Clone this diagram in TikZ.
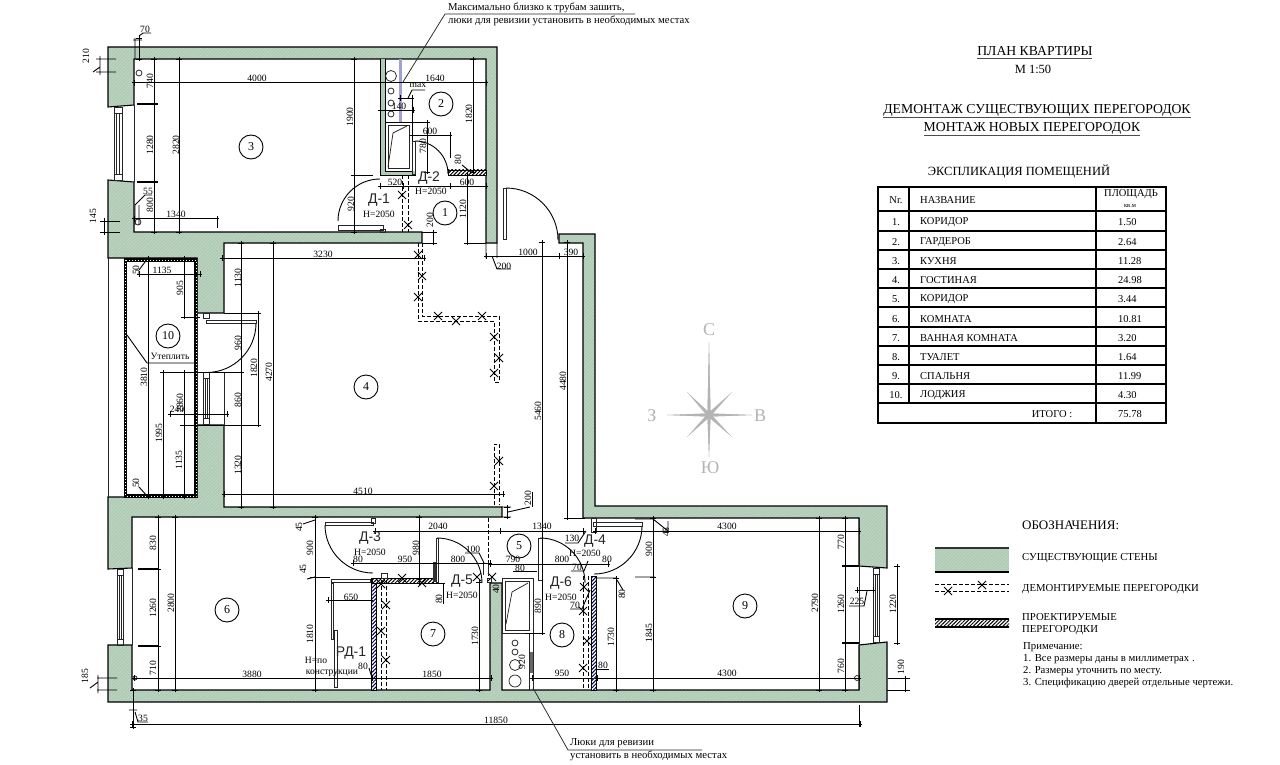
\documentclass[tikz,border=0pt]{standalone}
\usepackage{fontspec}
\setmainfont{Liberation Serif}
\newfontfamily\labsans{Liberation Sans}
\usetikzlibrary{patterns.meta}
\definecolor{wallgreen}{HTML}{AFCBB5}
\definecolor{wallstripe}{HTML}{C2D8C6}
\definecolor{compassgray}{HTML}{B4B4B4}
\newcounter{nn}
\tikzset{
  x=1pt,y=-1pt,
  wall/.style={fill=wallgreen,draw=black,line width=1.1pt,line join=miter},
  wallhatch/.style={pattern={Lines[angle=45,distance=2.4pt,line width=0.6pt]},pattern color=wallstripe},
  dimline/.style={line width=0.9pt,black},
  thinline/.style={line width=0.75pt,black!85},
  heavy/.style={line width=1.4pt,black},
  demo/.style={line width=1pt,dash pattern=on 4pt off 2pt},
  xmark/.style={line width=0.9pt},
  newhatch/.style={pattern={Lines[angle=45,distance=2.6pt,line width=1pt]},pattern color=black},
  newhatchb/.style={pattern={Lines[angle=45,distance=2.6pt,line width=1pt]},pattern color=blue!30!black},
  dimlab/.style={inner sep=0pt,font=\fontsize{9.6}{10}\selectfont,text=black},
  textlab/.style={inner sep=0pt,anchor=west,font=\fontsize{10.7}{11}\selectfont,text=black},
  doorlab/.style={inner sep=0pt,font=\labsans\fontsize{14}{15}\selectfont,text=black!85},
  roomnum/.style={circle,draw=black,line width=0.9pt,inner sep=0pt,minimum size=24pt,font=\fontsize{12}{12}\selectfont},
  tabl/.style={inner sep=0pt,font=\fontsize{10.5}{11}\selectfont,text=black},
  taba/.style={tabl,anchor=west},
  tline/.style={line width=1.1pt,black},
  star/.style={fill=compassgray,draw=none},
  compass/.style={inner sep=0pt,text=compassgray,font=\fontsize{18}{18}\selectfont},
}
\newcommand{\dimhh}[3]{\draw[dimline] (#1-2,#3)--(#2+2,#3) (#1,#3-3)--(#1,#3+3) (#2,#3-3)--(#2,#3+3);}
\newcommand{\dimvv}[3]{\draw[dimline] (#3,#1-2)--(#3,#2+2) (#3-3,#1)--(#3+3,#1) (#3-3,#2)--(#3+3,#2);}
\newcommand{\lbh}[3]{\stepcounter{nn}\node[dimlab] (n\thenn) at (#1,#2) {#3};}
\newcommand{\lbv}[3]{\stepcounter{nn}\node[dimlab,rotate=90] (n\thenn) at (#1,#2) {#3};}
\newcommand{\xm}[2]{\draw[xmark] (#1-4,#2-4)--(#1+4,#2+4) (#1-4,#2+4)--(#1+4,#2-4);}
\newcommand{\rn}[3]{\node[roomnum] (room#3) at (#1,#2) {#3};}
\newcommand{\trow}[4]{\node[tabl] (nr#1) at (896,#2+1) {#1.};\node[taba] (nm#1) at (920,#2+1) {#3};\node[taba] (ar#1) at (1118,#2+1) {#4};}
\begin{document}
\begin{tikzpicture}
\useasboundingbox (0,0) rectangle (1280,765);
\fill[white] (0,0) rectangle (1280,765);
% ---- walls
\def\wallA{(108,47)--(497,47)--(497,243)--(486,243)--(486,59)--(134,59)--(134,105)--(108,107)--cycle}
\def\wallB{(108,180)--(134,182)--(134,232)--(422,232)--(422,243)--(224,243)--(224,313)--(197,313)--(197,258)--(108,258)--cycle}
\def\wallC{(197,425)--(224,425)--(224,507)--(502,507)--(502,517)--(132,517)--(132,568)--(108,569)--(108,497)--(197,497)--cycle}
\def\wallD{(108,645)--(132,645)--(132,690)--(490,690)--(490,583)--(502,583)--(502,690)--(859,690)--(859,645)--(887,642)--(887,702)--(108,702)--cycle}
\def\wallE{(859,566)--(887,568)--(887,506)--(595,506)--(595,234)--(559,234)--(559,243)--(583,243)--(583,518)--(859,518)--cycle}
\foreach \w in {\wallA,\wallB,\wallC,\wallD,\wallE}{
  \path[fill=wallgreen] \w;
  \path[wallhatch] \w;
  \draw[draw=black,line width=1.1pt] \w;
}
% room edges through window and door openings
\draw[thinline] (134,105)--(134,182) (132,568)--(132,645) (859,518)--(859,690)
  (108,258)--(108,497) (197,258)--(197,497) (224,372)--(224,425) (197,372)--(224,372);
% ---- windows
\draw[thinline] (114,107) rectangle (122,180) (116.5,113) rectangle (119.5,174) (114,113)--(122,113) (114,174)--(122,174);
\draw[thinline] (117,569) rectangle (123,645) (119,575) rectangle (121,639) (117,575)--(123,575) (117,639)--(123,639);
\draw[thinline] (873,568) rectangle (879,642) (875,574) rectangle (877,636) (873,574)--(879,574) (873,636)--(879,636);
\draw[thinline] (203,372) rectangle (209,424) (205,378) rectangle (207,418) (203,378)--(209,378) (203,418)--(209,418);
% ---- loggia insulation
\draw[line width=3.2pt,black] (125.5,260) rectangle (196,496);
\draw[line width=1pt,white,dash pattern=on 1pt off 2pt] (125.5,260) rectangle (196,496);
\draw[thinline] (197,258)--(197,497);
% ---- kitchen niche
\fill[wallgreen] (380,59) rectangle (385,175);
\fill[wallgreen] (380,171) rectangle (415,175);
\draw[line width=0.9pt] (380,59)--(380,175)--(415,175)--(415,141);
\draw[line width=0.9pt] (385,59)--(385,171)--(412,171)--(412,122)--(385,122);
\draw[thinline] (388,125) rectangle (409,168);
\draw[thinline] (388,167)--(393,133)--(407,126);
\fill[blue!35!gray!55] (399,59) rectangle (402,122);
\draw[thinline] (391,76) circle[radius=5.5] (391,91) circle[radius=3] (391,103) circle[radius=3] (391,114) circle[radius=3]
  (139,73) circle[radius=3] (138,222) circle[radius=3] (135,678) circle[radius=2] (857,678) circle[radius=2.5];
% ---- toilet block
\draw[thinline] (502,578) rectangle (533,633) (505,581) rectangle (529,630);
\draw[thinline] (506,624)--(512,592)--(528,583);
\draw[thinline] (515,643) circle[radius=3] (515,652) circle[radius=3] (515,665) circle[radius=5.5] (515,681) circle[radius=6];
\draw[thinline] (529,633)--(529,690) (533,633)--(533,690);
\fill[black!60] (530,652) rectangle (533,673);
% ---- new partitions
\fill[white] (448,170) rectangle (486,175);
\path[newhatch] (448,170) rectangle (486,175);
\draw[line width=0.9pt] (448,170) rectangle (486,175);
\fill[white] (371,578) rectangle (376,690);
\path[newhatchb] (371,578) rectangle (376,690);
\draw[line width=0.9pt] (371,578) rectangle (376,690);
\fill[white] (372,578) rectangle (433,583);
\path[newhatch] (372,578) rectangle (433,583);
\draw[line width=0.9pt] (372,578) rectangle (433,583);
\fill[white] (591,576) rectangle (596,690);
\path[newhatchb] (591,576) rectangle (596,690);
\draw[line width=0.9pt] (591,576) rectangle (596,690);
\fill[black!80] (433,562) rectangle (436,582);
% ---- demolished partitions
\draw[demo] (402,175)--(402,232) (408,175)--(408,232);
\draw[demo] (418,243)--(418,321)--(494,321)--(494,382)--(499,382)--(499,316)--(422,316)--(422,243);
\draw[demo] (494,505)--(494,444)--(499,444)--(499,505);
\draw[demo] (381,580)--(381,690) (386,580)--(386,690);
\draw[demo] (488,518)--(488,578) (583,576)--(583,690) (588,576)--(588,690);
\foreach \px/\py in {402/195,408/225,418/255,422/276,418/297,438/316,456/321,482/316,494/337,499/358,494/373,499/461,494/486,386/605,381/631,386/660,381/584,402/578,422/583,477/577,492/577,584/587,583/611,587/641,583/668}{\xm{\px}{\py}}
% ---- doors
\draw[line width=0.9pt] (380,179) arc[start angle=-90,end angle=-180,radius=42];
\draw[thinline] (338,225) rectangle (383,230) (380,229) rectangle (385,232);
\draw[line width=0.9pt] (415,141) arc[start angle=-90,end angle=0,radius=33];
\draw[thinline] (412,141) rectangle (415,174);
\draw[line width=0.9pt] (506,188) arc[start angle=-90,end angle=0,radius=52];
\draw[thinline] (503,188) rectangle (506,239);
\draw[line width=0.9pt] (256,323) arc[start angle=0,end angle=90,radius=49.5];
\draw[thinline] (206,320) rectangle (256,323) (203,313) rectangle (209,318);
\draw[line width=0.9pt] (325,525) arc[start angle=180,end angle=90,radius=48];
\draw[thinline] (325,522) rectangle (373,525) (371,518) rectangle (375,523);
\draw[line width=0.9pt] (437,538) arc[start angle=-90,end angle=0,radius=45];
\draw[thinline] (436,538) rectangle (438,582);
\draw[line width=0.9pt] (540,538) arc[start angle=-90,end angle=0,radius=45];
\draw[thinline] (538,538) rectangle (542,580);
\draw[line width=0.9pt] (642,526) arc[start angle=0,end angle=90,radius=48];
\draw[thinline] (593,522) rectangle (642,526) (591,518) rectangle (596,532);
\draw[thinline] (331,583) rectangle (333,639) (334,630) rectangle (337,687) (331,579) rectangle (370,582);
\draw[thinline] (483,562)--(483,575) (488,562)--(488,575) (381,573) rectangle (387,578) (487,578) rectangle (491,582);
% ---- dimension lines, kitchen block
\dimvv{38}{59}{139}\draw[dimline] (135,38)--(135,59) (133,40)--(142,40) (139,36)--(143,33)--(151,33);
\lbh{145}{29}{70}
\draw[dimline] (96,59)--(116,59) (96,72)--(116,72) (100,56)--(100,75) (100,67)--(93,72);
\lbv{86}{56}{210}
\dimhh{134}{380}{82.7}\dimhh{380}{486}{82.7}
\lbh{257}{78}{4000}\lbh{435}{78}{1640}
\dimvv{59}{104}{154}\dimvv{104}{182}{154}\dimvv{182}{232}{154}
\lbv{150}{81}{740}\lbv{150}{145}{1280}\lbv{150}{205}{800}
\draw[heavy] (137,104)--(158,104) (137,182)--(158,182);
\dimvv{59}{232}{179}\lbv{176}{145}{2820}
\dimhh{134}{217}{218.7}\draw[dimline] (217,216)--(217,228);\lbh{176}{214}{1340}
\draw[dimline] (135,205)--(135,225) (139,205)--(139,225) (135,205)--(145,195)--(152,195);\lbh{148}{191}{55}
\draw[dimline] (100,221)--(120,221) (100,232)--(120,232) (104,218)--(104,235);\lbv{93}{216}{145}
\dimvv{59}{175}{354}\dimvv{175}{232}{354}\draw[dimline] (354,175)--(373,175);
\lbv{350}{117}{1900}\lbv{351}{204}{920}
\dimhh{400}{412}{98}\draw[dimline] (408,98)--(412,90)--(425,90);\lbh{418}{85}{max}
\dimhh{380}{413}{110}\lbh{399}{106}{140}
\draw[dimline] (412,95)--(412,122);
\dimhh{412}{450}{135}\lbh{430}{131}{600}
\draw[dimline] (450,135)--(450,158);
\dimvv{122}{172}{427}\draw[dimline] (412,122)--(428,122);\lbv{423}{146}{780}
\dimvv{59}{172}{473}\lbv{469}{114}{1820}
\draw[dimline] (462,165)--(472,173);\lbv{458}{160}{80}
\dimhh{450}{486}{186}\dimhh{380}{403}{186}\draw[dimline] (403,186)--(450,186);
\lbh{467}{182}{600}\lbh{395}{182}{520}
\dimvv{175}{243}{467}\draw[dimline] (465,243)--(486,243);\lbv{463}{209}{1120}
\dimvv{232}{243}{433}\draw[dimline] (422,232)--(437,232) (422,243)--(437,243);\lbv{430}{220}{200}
% ---- entry
\dimhh{486}{559}{256}\dimhh{559}{583}{256}\lbh{528}{252}{1000}\lbh{571}{252}{390}
\draw[dimline] (486,243)--(486,258) (497,243)--(497,258) (492,256)--(497,269)--(511,269);\lbh{504}{266}{200}
\dimvv{242}{633}{542}\draw[dimline] (525,633)--(545,633);\lbv{538}{411}{5460}
\dimvv{242}{518}{567}\draw[dimline] (565,518)--(585,518);\lbv{563}{381}{4480}
\dimvv{507}{517}{507}\draw[dimline] (502,507)--(511,507) (502,517)--(511,517) (508,512)--(530,507);\draw[dimline] (532,492)--(532,507);\lbv{528}{498}{200}
% ---- living room
\dimhh{222}{424}{258}\lbh{323}{254}{3230}
\dimhh{224}{503}{494}\lbh{363}{491}{4510}
\dimvv{243}{313}{241}\dimvv{313}{372}{241}\dimvv{372}{425}{241}\dimvv{425}{507}{241}
\lbv{238}{278}{1130}\lbv{238}{343}{960}\lbv{238}{400}{860}\lbv{238}{465}{1320}
\dimvv{243}{507}{273}\lbv{269}{372}{4270}
\dimvv{313}{425}{258}\lbv{254}{368}{1820}
\draw[dimline] (224,313)--(260,313) (160,372)--(243,372) (180,425)--(260,425);
% ---- loggia dims
\dimvv{258}{497}{148}\lbv{144}{377}{3810}
\dimhh{139}{200}{274}\lbh{162}{270}{1135}
\draw[dimline] (139,270)--(148,258);\lbv{136}{270}{50}
\dimvv{258}{317}{184}\draw[dimline] (182,317)--(200,317);\lbv{180}{288}{905}
\lbv{180}{403}{2860}
\dimvv{372}{497}{184}\lbv{179}{460}{1135}
\dimvv{372}{497}{163}\lbv{159}{433}{1995}
\dimhh{170}{227}{414}\lbh{177}{409}{240}
\draw[dimline] (139,487)--(148,497);\lbv{136}{483}{50}
\draw[dimline] (147,363)--(194,363) (147,363)--(127,335);
\lbh{170}{356}{Утеплить}
% ---- room 6
\dimvv{517}{569}{158}\dimvv{569}{646}{158}\dimvv{646}{690}{158}
\lbv{153}{543}{830}\lbv{153}{608}{1260}\lbv{153}{668}{710}
\draw[heavy] (138,569)--(158,569) (138,646)--(158,646);
\dimvv{517}{690}{175}\lbv{171}{603}{2800}
\dimhh{134}{372}{678}\dimhh{372}{491}{678}\lbh{252}{674}{3880}\lbh{432}{674}{1850}
\draw[dimline] (97,678)--(117,678) (97,690)--(117,690) (98,675)--(98,693) (98,682)--(90,688);
\lbv{85}{676}{185}
\dimvv{690}{727}{133}\draw[dimline] (129,710)--(137,710) (135,712)--(138,722)--(148,722);\lbh{143}{718}{35}
\dimhh{132}{860}{724}\lbh{496}{720}{11850}
\draw[dimline] (859,705)--(859,727);
\dimvv{517}{577}{315}\dimvv{577}{690}{315}\draw[dimline] (310,577)--(330,577);
\lbv{310}{548}{900}\lbv{310}{634}{1810}
\draw[dimline] (303,524)--(315,520) (307,579)--(315,577);
\lbv{299}{527}{45}\lbv{303}{569}{45}
\dimhh{375}{500}{531}\lbh{438}{526}{2040}
\dimvv{517}{583}{419}\lbv{416}{548}{980}
\dimhh{353}{490}{563}\lbh{358}{559}{80}\lbh{405}{559}{950}\lbh{458}{559}{800}\lbh{473}{549}{100}
\draw[dimline] (465,553)--(479,553)--(484,563);
\dimhh{328}{371}{600}\lbh{351}{597}{650}
\lbh{363}{666}{80}\draw[dimline] (369,668)--(372,678);
\draw[dimline] (443,583)--(443,604) (433,583)--(445,583);\lbv{439}{599}{80}
\dimvv{582}{690}{479}\lbv{475}{636}{1730}
\lbv{496}{589}{40}
% ---- corridor, bath
\dimhh{500}{583}{531}\dimhh{595}{859}{531}\lbh{542}{526}{1340}\lbh{727}{526}{4300}
\lbh{572}{538}{130}\draw[dimline] (565,543)--(578,543)--(586,531);
\dimhh{490}{608}{564}\lbh{513}{559}{790}\lbh{562}{559}{800}\lbh{607}{559}{80}
\lbh{520}{568}{80}\draw[dimline] (513,571)--(537,571);
\lbh{577}{567}{70}\draw[dimline] (571,571)--(584,571)--(588,561);
\lbh{575}{605}{70}\draw[dimline] (570,609)--(582,609)--(590,590);
\lbv{538}{606}{890}
\dimvv{578}{690}{616}\draw[dimline] (597,578)--(616,578) (617,580)--(623,590);\lbv{622}{594}{80}\lbv{611}{637}{1730}
\dimhh{532}{591}{678}\dimhh{597}{859}{678}\lbh{562}{673}{950}\lbh{727}{673}{4300}
\lbh{603}{665}{80}\draw[dimline] (596,669)--(609,669);
\lbv{522}{662}{920}
% ---- room 9
\dimvv{518}{577}{653}\dimvv{577}{690}{653}\draw[dimline] (635,577)--(655,577) (635,519)--(653,519) (653,519)--(668,531)--(668,521);
\lbv{649}{549}{900}\lbv{649}{633}{1845}\lbv{666}{532}{45}
\dimvv{518}{690}{819}\lbv{815}{603}{2790}
\dimvv{518}{566}{845}\dimvv{566}{643}{845}\dimvv{643}{690}{845}
\lbv{841}{542}{770}\lbv{841}{604}{1260}\lbv{841}{666}{760}
\draw[heavy] (842,566)--(859,566) (842,643)--(859,643);
\dimhh{857}{873}{590}\draw[dimline] (867,591)--(864,606)--(849,606);\lbh{857}{601}{225}
\dimvv{566}{643}{897}\lbv{893}{604}{1220}
\dimvv{678}{690}{905}\draw[dimline] (888,678)--(910,678) (887,690)--(910,690);\lbv{901}{667}{190}
% ---- door labels
\node[doorlab] (d1) at (379,200) {Д-1};
\node[dimlab] (h1) at (379,214) {Н=2050};
\node[doorlab] (d2) at (429,178) {Д-2};
\node[dimlab] (h2) at (431,191) {Н=2050};
\node[doorlab] (d3) at (370,538) {Д-3};
\node[dimlab] (h3) at (370,552) {Н=2050};
\node[doorlab] (d4) at (595,541) {Д-4};
\node[dimlab] (h4) at (585,553) {Н=2050};
\node[doorlab] (d5) at (462,581) {Д-5};
\node[dimlab] (h5) at (462,595) {Н=2050};
\node[doorlab] (d6) at (561,583) {Д-6};
\node[dimlab] (h6) at (561,597) {Н=2050};
\node[doorlab] (rd) at (351,653) {РД-1};
\node[dimlab] (rd1) at (316,660) {Н=по};
\node[dimlab] (rd2) at (332,673) {конструкции};
% ---- room numbers
\rn{441}{104}{2}\rn{251}{147}{3}\rn{445}{213}{1}\rn{168}{336}{10}\rn{366}{387}{4}
\rn{227}{610}{6}\rn{433}{634}{7}\rn{519}{546}{5}\rn{562}{635}{8}\rn{745}{606}{9}
% ---- callouts
\node[textlab] (call1) at (448,8) {Максимально близко к трубам зашить,};
\node[textlab] (call2) at (448,21) {люки для ревизии установить в необходимых местах};
\draw[thinline] (403,82)--(445,14)--(635,14);
\node[textlab] (call3) at (570,743) {Люки для ревизии};
\node[textlab] (call4) at (570,756) {установить в необходимых местах};
\draw[thinline] (533,688)--(568,750)--(702,750);
% ---- title
\node[inner sep=0pt,font=\fontsize{13.7}{14}\selectfont] (t1) at (1035,51) {ПЛАН КВАРТИРЫ};
\draw[line width=1pt,black!70] (977,59)--(1092,59);
\node[inner sep=0pt,font=\fontsize{12.5}{13}\selectfont] (t2) at (1033,69) {М 1:50};
\node[inner sep=0pt,font=\fontsize{13.7}{14}\selectfont] (t3) at (1037,110) {ДЕМОНТАЖ СУЩЕСТВУЮЩИХ ПЕРЕГОРОДОК};
\draw[line width=1.3pt,black!70] (883,117.5)--(1191,117.5);
\node[inner sep=0pt,font=\fontsize{13.7}{14}\selectfont] (t4) at (1032,128) {МОНТАЖ НОВЫХ ПЕРЕГОРОДОК};
\draw[line width=1.3pt,black!70] (924,135.5)--(1140,135.5);
\node[inner sep=0pt,font=\fontsize{12.5}{13}\selectfont] (t5) at (1019,172) {ЭКСПЛИКАЦИЯ ПОМЕЩЕНИЙ};
% ---- table
\draw[tline] (878,187) rectangle (1166,423);
\draw[tline] (909,187)--(909,403) (1096,187)--(1096,423);
\foreach \ry in {211,231,250,288,307,327,346,365,384,403}{\draw[tline] (878,\ry)--(1166,\ry);}
\draw[line width=1.6pt] (878,269)--(1166,269);
\node[tabl] (hd1) at (896,200) {Nr.};
\node[taba] (hd2) at (920,200) {НАЗВАНИЕ};
\node[tabl] (hd3) at (1131,194) {ПЛОЩАДЬ};
\node[tabl,font=\fontsize{6.5}{7}\selectfont] (hd4) at (1130,206) {кв.м};
\trow{1}{221}{КОРИДОР}{1.50}
\trow{2}{241}{ГАРДЕРОБ}{2.64}
\trow{3}{260}{КУХНЯ}{11.28}
\trow{4}{279}{ГОСТИНАЯ}{24.98}
\trow{5}{298}{КОРИДОР}{3.44}
\trow{6}{318}{КОМНАТА}{10.81}
\trow{7}{337}{ВАННАЯ КОМНАТА}{3.20}
\trow{8}{356}{ТУАЛЕТ}{1.64}
\trow{9}{375}{СПАЛЬНЯ}{11.99}
\trow{10}{394}{ЛОДЖИЯ}{4.30}
\node[tabl] (tot) at (1052,414) {ИТОГО :};
\node[taba] (totv) at (1118,414) {75.78};
% ---- compass
\foreach \tx/\ty/\ax/\ay in {709/342/1.6/0,709/457/1.6/0,667/415/0/1.6,752/415/0/1.6}{
  \path[star] (\tx,\ty)--(709+\ax,415+\ay)--(709-\ax,415-\ay)--cycle;
  \path[star] (\tx,\ty)--(709-\ax,415+\ay)--(709+\ax,415-\ay)--cycle;
}
\foreach \tx/\ty/\ax/\ay in {687/392/1.4/-1.4,732/392/1.4/1.4,687/437/1.4/1.4,732/437/1.4/-1.4}{
  \path[star] (\tx,\ty)--(709+\ax,415+\ay)--(709-\ax,415-\ay)--cycle;
}
\node[compass] (cn) at (709,330) {С};
\node[compass] (cs) at (710,468) {Ю};
\node[compass] (cw) at (652,416) {З};
\node[compass] (ce) at (760,416) {В};
% ---- legend
\node[textlab,font=\fontsize{13}{13}\selectfont] (lg0) at (1022,525) {ОБОЗНАЧЕНИЯ:};
\path[fill=wallgreen] (935,548) rectangle (1009,572);
\path[wallhatch] (935,548) rectangle (1009,572);
\draw[line width=1.8pt,black!80] (935,548)--(1009,548);
\draw[line width=1.2pt,black] (935,572)--(1009,572);
\node[textlab] (lg1) at (1022,558) {СУЩЕСТВУЮЩИЕ СТЕНЫ};
\draw[demo] (935,584)--(1009,584) (935,591)--(1009,591);
\xm{948}{591}\xm{982}{585}
\node[textlab] (lg2) at (1022,589) {ДЕМОНТИРУЕМЫЕ ПЕРЕГОРОДКИ};
\path[newhatch] (935,619) rectangle (1009,627);
\draw[line width=1.3pt] (935,619)--(1009,619) (935,627)--(1009,627);
\node[textlab] (lg3) at (1022,617) {ПРОЕКТИРУЕМЫЕ};
\node[textlab] (lg4) at (1022,630) {ПЕРЕГОРОДКИ};
\node[textlab] (nt0) at (1023,647) {Примечание:};
\node[textlab] (nt1) at (1023,659) {1. Все размеры даны в миллиметрах .};
\node[textlab] (nt2) at (1023,671) {2. Размеры уточнить по месту.};
\node[textlab] (nt3) at (1023,683) {3. Спецификацию дверей отдельные чертежи.};
\end{tikzpicture}
\end{document}
